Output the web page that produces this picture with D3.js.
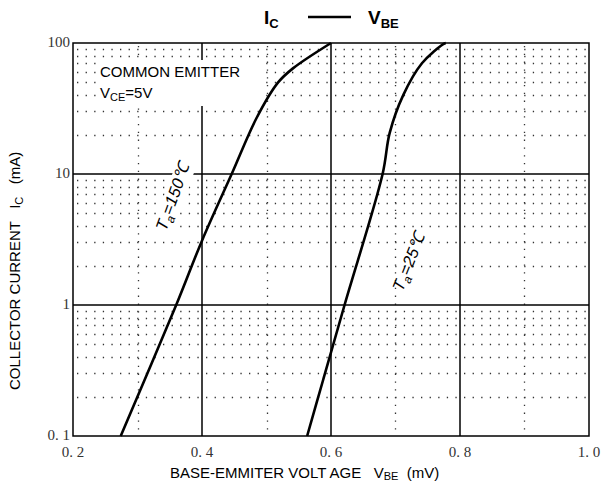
<!DOCTYPE html>
<html>
<head>
<meta charset="utf-8">
<script src="https://cdn.jsdelivr.net/npm/d3@7"></script>
<style>
  body { margin: 0; background: #fff; }
  svg text { font-family: "Liberation Sans", Arial, sans-serif; white-space: pre; }
</style>
</head>
<body>
<svg id="chart" width="602" height="486"></svg>
<script>
// curve data (V in volts, I in mA)
const vbe150 = [0.274, 0.36, 0.4, 0.446, 0.485, 0.518, 0.541, 0.6];
const ic150 = [0.1, 1, 3.1, 10, 27, 50, 64, 100];
const vbe25 = [0.563, 0.588, 0.621, 0.68, 0.691, 0.712, 0.741, 0.774, 0.778];
const ic25 = [0.1, 0.27, 1, 10, 20.6, 40, 70, 98, 100];

const xTicks = [0.2, 0.4, 0.6, 0.8, 1.0];
const xTickLabels = ["0. 2", "0. 4", "0. 6", "0. 8", "1. 0"];
const yTicks = [0.1, 1, 10, 100];
const yTickLabels = ["0. 1", "1", "10", "100"];
const xMajorGrid = [0.4, 0.6, 0.8];
const xMinorGrid = [0.3, 0.5, 0.7, 0.9];
const yMajorGrid = [1, 10];

const svg = d3.select("#chart");
const margin = { top: 43, right: 13, bottom: 50, left: 73 };
const width = 602, height = 486;

const x = d3.scaleLinear().domain([0.2, 1.0]).range([margin.left, width - margin.right]);
const y = d3.scaleLog().domain([0.1, 100]).range([height - margin.bottom, margin.top]);

// minor horizontal dotted rows (2..9 of each decade)
const yMinor = [];
[0.1, 1, 10].forEach(d => { for (let k = 2; k <= 9; k++) yMinor.push(d * k); });

const dotStep = (x(0.4) - x(0.2)) / 15;

svg.append("g").selectAll("line")
    .data(yMinor)
    .enter()
    .append("line")
    .attr("x1", x(0.2) + 4)
    .attr("x2", x(1.0))
    .attr("y1", d => Math.round(y(d)) + 0.5)
    .attr("y2", d => Math.round(y(d)) + 0.5)
    .attr("stroke", "#333")
    .attr("stroke-width", 1.3)
    .attr("stroke-dasharray", `1.3 ${dotStep - 1.3}`);

svg.append("g").selectAll("line")
    .data(xMinorGrid)
    .enter()
    .append("line")
    .attr("x1", d => Math.round(x(d)) + 0.5)
    .attr("x2", d => Math.round(x(d)) + 0.5)
    .attr("y1", y(100) + 3)
    .attr("y2", y(0.1))
    .attr("stroke", "#333")
    .attr("stroke-width", 1.3)
    .attr("stroke-dasharray", "1.3 6.5");

// solid grid
svg.append("g").selectAll("line")
    .data(xMajorGrid)
    .enter()
    .append("line")
    .attr("x1", d => x(d))
    .attr("x2", d => x(d))
    .attr("y1", y(100))
    .attr("y2", y(0.1))
    .attr("stroke", "#000")
    .attr("stroke-width", 1.5);

svg.append("g").selectAll("line")
    .data(yMajorGrid)
    .enter()
    .append("line")
    .attr("x1", x(0.2))
    .attr("x2", x(1.0))
    .attr("y1", d => y(d))
    .attr("y2", d => y(d))
    .attr("stroke", "#000")
    .attr("stroke-width", 1.5);

// white box behind the annotation
svg.append("rect").attr("x", 98).attr("y", 60).attr("width", 166).attr("height", 46).attr("fill", "#fff");

// curves
const line = d3.line()
    .x(d => x(d[0]))
    .y(d => y(d[1]))
    .curve(d3.curveCatmullRom.alpha(0.5));

svg.append("path")
    .datum(vbe150.map((v, i) => [v, ic150[i]]))
    .attr("d", line)
    .attr("fill", "none")
    .attr("stroke", "#000")
    .attr("stroke-width", 2.6);

svg.append("path")
    .datum(vbe25.map((v, i) => [v, ic25[i]]))
    .attr("d", line)
    .attr("fill", "none")
    .attr("stroke", "#000")
    .attr("stroke-width", 2.6);

// frame
svg.append("rect")
    .attr("x", x(0.2))
    .attr("y", y(100))
    .attr("width", x(1.0) - x(0.2))
    .attr("height", y(0.1) - y(100))
    .attr("fill", "none")
    .attr("stroke", "#000")
    .attr("stroke-width", 1.5);

// tick labels
svg.append("g").selectAll("text")
    .data(xTicks)
    .enter()
    .append("text")
    .attr("x", d => x(d))
    .attr("y", 457)
    .attr("text-anchor", "middle")
    .style("font-family", "'Liberation Serif', 'DejaVu Serif', serif")
    .style("font-size", "15px")
    .attr("fill", "#333")
    .text((d, i) => xTickLabels[i]);

svg.append("g").selectAll("text")
    .data(yTicks)
    .enter()
    .append("text")
    .attr("x", 70)
    .attr("y", d => y(d) + 4)
    .attr("text-anchor", "end")
    .style("font-family", "'Liberation Serif', 'DejaVu Serif', serif")
    .style("font-size", "15px")
    .attr("fill", "#333")
    .text((d, i) => yTickLabels[i]);

// title
const title = svg.append("text")
    .attr("x", 264)
    .attr("y", 24)
    .style("font-size", "19px")
    .style("font-weight", "bold");
title.append("tspan").text("I");
title.append("tspan").attr("dy", 4).style("font-size", "13px").text("C");
svg.append("line")
    .attr("x1", 308).attr("x2", 351)
    .attr("y1", 17).attr("y2", 17)
    .attr("stroke", "#000").attr("stroke-width", 2.5);
const title2 = svg.append("text")
    .attr("x", 368)
    .attr("y", 24)
    .style("font-size", "19px")
    .style("font-weight", "bold");
title2.append("tspan").text("V");
title2.append("tspan").attr("dy", 4).style("font-size", "13px").text("BE");

// annotation
svg.append("text")
    .attr("x", 100)
    .attr("y", 77)
    .style("font-size", "15px")
    .text("COMMON EMITTER");
const vce = svg.append("text")
    .attr("x", 100)
    .attr("y", 98)
    .style("font-size", "15px");
vce.append("tspan").text("V");
vce.append("tspan").attr("dy", 3).style("font-size", "11px").text("CE");
vce.append("tspan").attr("dy", -3).text("=5V");

// temperature labels
function tempLabel(cx, cy, angle, temp, bg) {
    const g = svg.append("g")
        .attr("transform", `translate(${cx},${cy}) rotate(${angle})`);
    if (bg) {
        g.append("rect").attr("x", -36).attr("y", -14).attr("width", 72).attr("height", 20).attr("fill", "#fff");
    }
    const t = g.append("text")
        .attr("text-anchor", "middle")
        .style("font-size", "16.5px")
        .style("font-style", "italic");
    t.append("tspan").text("T");
    t.append("tspan").attr("dy", 4).style("font-size", "12px").text("a");
    t.append("tspan").attr("dy", -4).text("=" + temp + "℃");
}
tempLabel(178, 199, -70, "150", true);
tempLabel(414, 264, -68, "25", false);

// axis titles
const xl = svg.append("text")
    .attr("x", 170)
    .attr("y", 478)
    .style("font-size", "15px");
xl.append("tspan").text("BASE-EMMITER VOLT AGE   V");
xl.append("tspan").attr("dy", 2).style("font-size", "11px").text("BE");
xl.append("tspan").attr("dy", -2).text("  (mV)");

const yl = svg.append("text")
    .attr("transform", "translate(20,390) rotate(-90)")
    .style("font-size", "15px");
yl.append("tspan").text("COLLECTOR CURRENT   I");
yl.append("tspan").attr("dy", 3).style("font-size", "11px").text("C");
yl.append("tspan").attr("dy", -3).text("   (mA)");
</script>
</body>
</html>
